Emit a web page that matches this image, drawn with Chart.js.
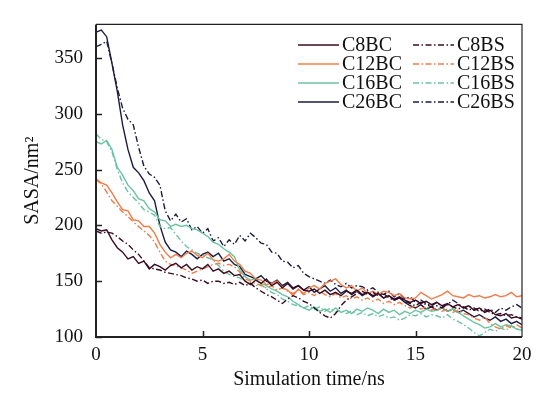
<!DOCTYPE html>
<html>
<head>
<meta charset="utf-8">
<script src="https://cdn.jsdelivr.net/npm/chart.js@4.4.1/dist/chart.umd.min.js"></script>
<style>
  html, body { margin: 0; padding: 0; background: #fff; }
  canvas { display: block; }
</style>
</head>
<body>
<canvas id="sasaChart" width="551" height="394"></canvas>
<script>
// time axis, sampled every 0.25 ns
const timeNs = Array.from({ length: 81 }, (_, i) => i * 0.25);

const c8bc = [197, 195, 196, 187, 180, 176, 170, 172, 166, 168, 161, 165, 163, 160, 164, 166, 162, 165, 160, 163,
  161, 165, 159, 161, 157, 159, 155, 156, 150, 147, 151, 148, 152, 146, 149, 144, 148, 143, 146, 142,
  141, 143, 139, 142, 138, 140, 137, 141, 139, 142, 138, 140, 137, 139, 135, 137, 134, 136, 133, 131,
  133, 130, 132, 129, 131, 128, 130, 127, 129, 126, 128, 124, 126, 122, 124, 120, 119, 121, 117, 118, 116];
const c8bs = [195, 193, 194, 193, 190, 186, 183, 178, 174, 168, 162, 161, 160, 158, 157, 156, 155, 153, 152, 150,
  151, 148, 150, 150, 148, 149, 147, 149, 146, 148, 144, 141, 138, 136, 133, 130, 134, 137, 135, 132,
  130, 126, 122, 119, 117, 121, 128, 133, 136, 139, 141, 138, 140, 137, 139, 135, 133, 135, 132, 130,
  128, 131, 129, 127, 128, 126, 129, 127, 125, 127, 124, 126, 123, 125, 122, 120, 121, 119, 120, 118, 117];
const c12bc = [242, 238, 236, 229, 221, 214, 213, 205, 204, 199, 199, 193, 183, 176, 171, 174, 171, 175, 177, 173,
  171, 175, 169, 168, 170, 174, 168, 165, 159, 157, 152, 151, 147, 148, 150, 144, 142, 137, 143, 139,
  144, 146, 143, 148, 150, 152, 147, 144, 146, 141, 144, 139, 141, 138, 141, 140, 137, 139, 135, 134,
  135, 140, 137, 134, 136, 138, 141, 137, 136, 135, 138, 136, 137, 135, 136, 138, 136, 137, 140, 136, 137];
const c12bs = [241, 237, 230, 222, 217, 212, 208, 203, 199, 195, 191, 185, 176, 168, 165, 164, 162, 160, 157, 159,
  161, 163, 165, 166, 164, 165, 163, 158, 152, 150, 148, 146, 144, 146, 142, 144, 141, 139, 142, 138,
  140, 137, 141, 138, 136, 139, 135, 137, 134, 136, 133, 135, 132, 134, 130, 132, 129, 131, 128, 126,
  128, 125, 127, 124, 126, 123, 125, 122, 124, 121, 120, 117, 115, 118, 112, 109, 107, 110, 108, 111, 108];
const c16bc = [275, 273, 276, 268, 252, 245, 236, 231, 224, 222, 215, 212, 205, 204, 199, 201, 199, 200, 197, 196,
  193, 190, 185, 183, 179, 176, 172, 160, 154, 151, 152, 148, 146, 143, 141, 138, 136, 132, 129, 126,
  124, 127, 123, 125, 122, 126, 122, 124, 121, 125, 123, 126, 124, 121, 125, 122, 124, 120, 123, 121,
  124, 122, 125, 123, 124, 126, 123, 125, 122, 119, 116, 113, 111, 108, 109, 112, 109, 111, 110, 107, 106];
const c16bs = [282, 277, 275, 266, 250, 238, 230, 225, 220, 214, 212, 209, 199, 197, 198, 192, 186, 181, 178, 175,
  173, 171, 169, 164, 159, 156, 154, 153, 150, 148, 146, 147, 143, 140, 138, 134, 132, 129, 128, 126,
  128, 125, 127, 123, 126, 122, 124, 121, 123, 120, 122, 119, 121, 118, 120, 117, 118, 115, 117, 120,
  119, 121, 118, 120, 119, 117, 120, 116, 114, 111, 108, 104, 101, 104, 107, 105, 108, 106, 110, 107, 109];
const c26bc = [373, 375, 369, 345, 320, 290, 268, 252, 247, 240, 229, 222, 200, 185, 178, 176, 172, 177, 174, 170,
  174, 176, 172, 175, 168, 170, 165, 163, 156, 154, 152, 155, 150, 148, 151, 146, 149, 144, 146, 142,
  145, 140, 143, 146, 141, 144, 139, 142, 138, 141, 137, 140, 136, 139, 135, 137, 133, 135, 131, 128,
  126, 129, 125, 127, 124, 126, 123, 125, 122, 124, 121, 118, 120, 117, 115, 118, 114, 116, 112, 114, 111];
const c26bs = [360, 362, 365, 345, 323, 305, 295, 290, 270, 253, 246, 243, 236, 213, 204, 210, 203, 206, 196, 199,
  193, 197, 186, 189, 181, 187, 183, 191, 186, 193, 189, 184, 183, 176, 175, 168, 167, 162, 164, 157,
  154, 152, 150, 148, 151, 147, 145, 148, 144, 146, 145, 142, 144, 140, 138, 141, 136, 139, 134, 136,
  131, 133, 130, 128, 131, 127, 129, 133, 130, 126, 128, 124, 126, 123, 125, 122, 126, 124, 127, 129, 126];

const seriesLabels = ["C8BC", "C8BS", "C12BC", "C12BS", "C16BC", "C16BS", "C26BC", "C26BS"];
const seriesValues = [c8bc, c8bs, c12bc, c12bs, c16bc, c16bs, c26bc, c26bs];
const xTicks = [0, 5, 10, 15, 20];
const yTicks = [100, 150, 200, 250, 300, 350];

const colors = {
  C8: "#3a0c22",
  C12: "#f07c4a",
  C16: "#6cc3a2",
  C26: "#1c1b40"
};
const dashDot = [6, 2.5, 1.5, 2.5];
const serif = "'Liberation Serif', 'DejaVu Serif', serif";

const datasets = seriesLabels.map(function (label, k) {
  const key = label.replace(/B[CS]$/, "");
  const dashed = label.endsWith("BS");
  return {
    label: label,
    data: timeNs.map((t, i) => ({ x: t, y: seriesValues[k][i] })),
    borderColor: colors[key],
    borderWidth: 1.4,
    borderDash: dashed ? dashDot : [],
    pointRadius: 0,
    fill: false,
    tension: 0
  };
});

// frame, inner ticks and the two-column legend
const decorPlugin = {
  id: "decor",
  afterDraw(chart) {
    const ctx = chart.ctx;
    const a = chart.chartArea;
    const xs = chart.scales.x;
    const ys = chart.scales.y;
    ctx.save();
    ctx.strokeStyle = "#222";
    ctx.lineWidth = 1.2;
    ctx.beginPath();
    ctx.moveTo(a.left, a.top);
    ctx.lineTo(a.right, a.top);
    ctx.lineTo(a.right, a.bottom);
    ctx.stroke();
    ctx.lineWidth = 2;
    ctx.beginPath();
    ctx.moveTo(a.left, a.top);
    ctx.lineTo(a.left, a.bottom);
    ctx.lineTo(a.right, a.bottom);
    ctx.stroke();

    ctx.lineWidth = 1.5;
    ctx.beginPath();
    yTicks.forEach(function (v) {
      const py = Math.round(ys.getPixelForValue(v)) + 0.5;
      ctx.moveTo(a.left, py);
      ctx.lineTo(a.left + 6, py);
    });
    xTicks.slice(1, -1).forEach(function (v) {
      const px = Math.round(xs.getPixelForValue(v)) + 0.5;
      ctx.moveTo(px, a.bottom);
      ctx.lineTo(px, a.bottom - 6);
    });
    ctx.stroke();

    // legend
    ctx.font = "20px " + serif;
    ctx.textBaseline = "middle";
    ctx.fillStyle = "#111";
    const rowY = [45, 64, 83, 102];
    const colX = [298, 413];
    chart.data.datasets.forEach(function (ds, i) {
      const row = Math.floor(i / 2);
      const col = i % 2;
      const y = rowY[row];
      const x0 = colX[col];
      ctx.strokeStyle = ds.borderColor;
      ctx.lineWidth = 1.4;
      ctx.setLineDash(ds.borderDash);
      ctx.beginPath();
      ctx.moveTo(x0, y);
      ctx.lineTo(x0 + 41, y);
      ctx.stroke();
      ctx.setLineDash([]);
      ctx.fillText(ds.label, x0 + 44, y + 1);
    });
    ctx.restore();
  }
};

const chart = new Chart(document.getElementById("sasaChart"), {
  type: "line",
  data: { datasets: datasets },
  options: {
    responsive: false,
    animation: false,
    devicePixelRatio: 1,
    layout: { padding: { top: 17, right: 29, left: 0, bottom: 0 } },
    plugins: {
      legend: { display: false },
      tooltip: { enabled: false }
    },
    scales: {
      x: {
        type: "linear",
        min: 0,
        max: 20,
        afterBuildTicks: function (scale) {
          scale.ticks = xTicks.map(v => ({ value: v }));
        },
        afterFit: function (scale) { scale.height = 57; },
        grid: { display: false, drawTicks: false },
        border: { display: false },
        ticks: { padding: 7, color: "#111", font: { family: serif, size: 19 } },
        title: {
          display: true,
          text: "Simulation time/ns",
          color: "#111",
          font: { family: serif, size: 20 },
          padding: { top: 0, bottom: 2 }
        }
      },
      y: {
        min: 100,
        max: 380,
        afterBuildTicks: function (scale) {
          scale.ticks = yTicks.map(v => ({ value: v }));
        },
        afterFit: function (scale) { scale.width = 96; },
        grid: { display: false, drawTicks: false },
        border: { display: false },
        ticks: { padding: 13, color: "#111", font: { family: serif, size: 19 } },
        title: {
          display: true,
          text: "SASA/nm\u00b2",
          color: "#111",
          font: { family: serif, size: 20 },
          padding: { top: 21, bottom: 0 }
        }
      }
    }
  },
  plugins: [decorPlugin]
});
</script>
</body>
</html>
